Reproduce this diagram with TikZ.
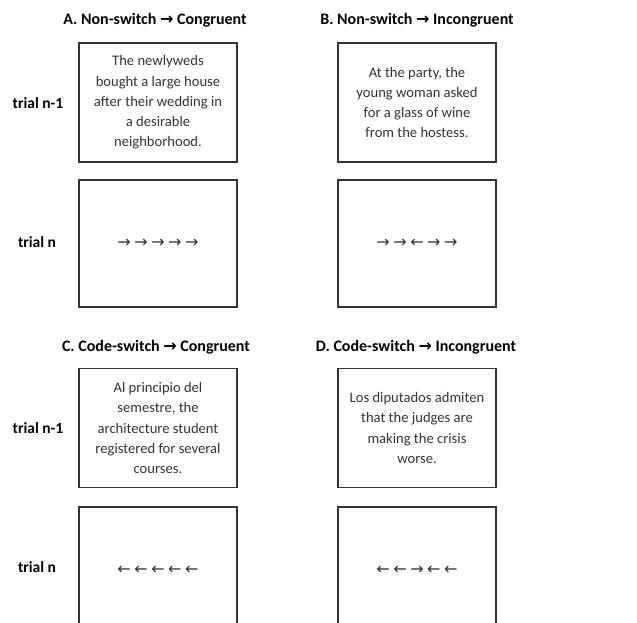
\documentclass[tikz,border=0pt]{standalone}
\usepackage{fontspec}
\setmainfont{Carlito}
\newfontfamily\arrowfont{DejaVu Sans}
\definecolor{ink}{HTML}{333333}
\newcommand{\ra}{{\arrowfont\char"2192}}
\newcommand{\la}{{\arrowfont\char"2190}}
\newcommand{\tra}{{\arrowfont\bfseries\char"2192}}
\newcommand{\asep}{\hspace{3.5pt}}
\tikzset{
  panel/.style={draw=ink, line width=1.5pt, minimum width=158pt, minimum height=119pt,
    inner sep=0pt, align=center, text=ink, font=\fontsize{14.6}{20.3}\selectfont},
  tpanel/.style={panel, minimum height=127pt, font=\fontsize{16}{18}\selectfont},
  ttl/.style={text=black, font=\bfseries\fontsize{16}{18}\selectfont, inner sep=0pt},
  lbl/.style={text=black, font=\bfseries\fontsize{15.5}{18}\selectfont, inner sep=0pt}
}
\begin{document}
\begin{tikzpicture}[x=1pt,y=-1pt]
\useasboundingbox (0,0) rectangle (637,622);
\clip (0,0) rectangle (637,622);
% titles
\node[ttl] (tA) at (155,20) {A. Non-switch \tra{} Congruent};
\node[ttl] (tB) at (417,20) {B. Non-switch \tra{} Incongruent};
\node[ttl] (tC) at (156,347) {C. Code-switch \tra{} Congruent};
\node[ttl] (tD) at (416,347) {D. Code-switch \tra{} Incongruent};
% row labels
\node[lbl] (l1) at (38,103) {trial n-1};
\node[lbl] (l2) at (37,242) {trial n};
\node[lbl] (l3) at (38,428) {trial n-1};
\node[lbl] (l4) at (37,567) {trial n};
% boxes
\node[panel] (A1) at (158,102.5) {The newlyweds\\bought a large house\\after their wedding in\\a desirable\\neighborhood.};
\node[panel] (B1) at (417,102.5) {At the party, the\\young woman asked\\for a glass of wine\\from the hostess.};
\node[tpanel] (A2) at (158,243.5) {\ra\asep\ra\asep\ra\asep\ra\asep\ra};
\node[tpanel] (B2) at (417,243.5) {\ra\asep\ra\asep\la\asep\ra\asep\ra};
\node[panel] (C1) at (158,428) {Al principio del\\semestre, the\\architecture student\\registered for several\\courses.};
\node[panel] (D1) at (417,428) {Los diputados admiten\\that the judges are\\making the crisis\\worse.};
\node[tpanel] (C2) at (158,570.5) {\la\asep\la\asep\la\asep\la\asep\la};
\node[tpanel] (D2) at (417,570.5) {\la\asep\la\asep\ra\asep\la\asep\la};
\end{tikzpicture}
\end{document}
